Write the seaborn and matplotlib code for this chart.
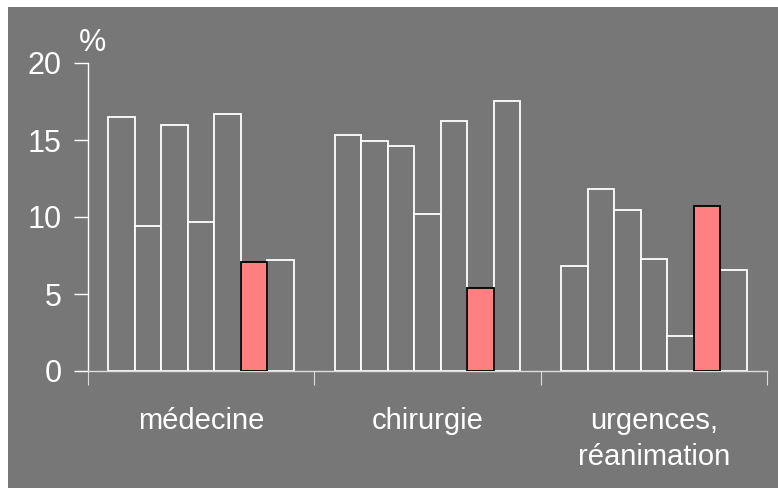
import pandas as pd
import numpy as np
import seaborn as sns
import matplotlib.pyplot as plt
from matplotlib.patches import Rectangle

# valeurs (%)
groups = ["médecine", "chirurgie", "urgences,\nréanimation"]
series = ["s1", "s2", "s3", "s4", "s5", "s6", "s7"]
medecine = [16.5, 9.4, 16.0, 9.65, 16.7, 7.05, 7.2]
chirurgie = [15.35, 14.95, 14.6, 10.2, 16.25, 5.4, 17.55]
urgences = [6.8, 11.85, 10.45, 7.3, 2.3, 10.7, 6.55]
highlight = "s6"

df = pd.DataFrame({
    "group": np.repeat(groups, len(series)),
    "series": series * len(groups),
    "value": medecine + chirurgie + urgences,
})

bg = "#777777"
red = "#FF8080"

sns.set_style("white")
plt.rcParams["font.family"] = ["Liberation Sans", "DejaVu Sans"]

fig = plt.figure(figsize=(7.78, 4.88), dpi=100, facecolor="white")
fig.patches.append(Rectangle((8 / 778, 0), 1 - 8 / 778, 1 - 7 / 488,
                             transform=fig.transFigure, facecolor=bg,
                             edgecolor="none", zorder=-10))
ax = fig.add_axes([88 / 778, 1 - 371 / 488, (767 - 88) / 778, 308 / 488])
ax.set_facecolor("none")

palette = {s: (red if s == highlight else bg) for s in series}
sns.barplot(data=df, x="group", y="value", hue="series", palette=palette,
            width=0.82, legend=False, saturation=1, ax=ax)

for cont, s in zip(ax.containers, series):
    for bar in cont:
        bar.set_edgecolor("black" if s == highlight else "white")
        bar.set_linewidth(1.3)
        if s == highlight:
            bar.set_zorder(3)

ax.set_ylim(0, 20)
ax.set_xlim(-0.5, 2.5)
ax.set_yticks([0, 5, 10, 15, 20])
ax.set_xticks([-0.5, 0.5, 1.5, 2.5])
ax.set_xticklabels([])
ax.set_xticks([0, 1, 2], minor=True)
ax.set_xticklabels(groups, minor=True)
for lab in ax.get_xticklabels(minor=True):
    lab.set_linespacing(1.35)
ax.tick_params(axis="x", which="minor", length=0, pad=26, labelsize=21,
               labelcolor="white")
ax.tick_params(axis="x", which="major", length=10, color="#DDDDDD",
               direction="out", bottom=True)
ax.tick_params(axis="y", length=10, color="white", width=1, pad=9,
               labelsize=22, labelcolor="white", direction="out", left=True)
ax.set_xlabel("")
ax.set_ylabel("")

for side in ["top", "right"]:
    ax.spines[side].set_visible(False)
ax.spines["left"].set_color("white")
ax.spines["bottom"].set_color("#DDDDDD")
ax.spines["left"].set_linewidth(1)
ax.spines["bottom"].set_linewidth(1)

fig.text(92 / 778, 1 - 43 / 488, "%", ha="center", va="center",
         fontsize=22, color="white")

fig.savefig("out.png", dpi=100)
